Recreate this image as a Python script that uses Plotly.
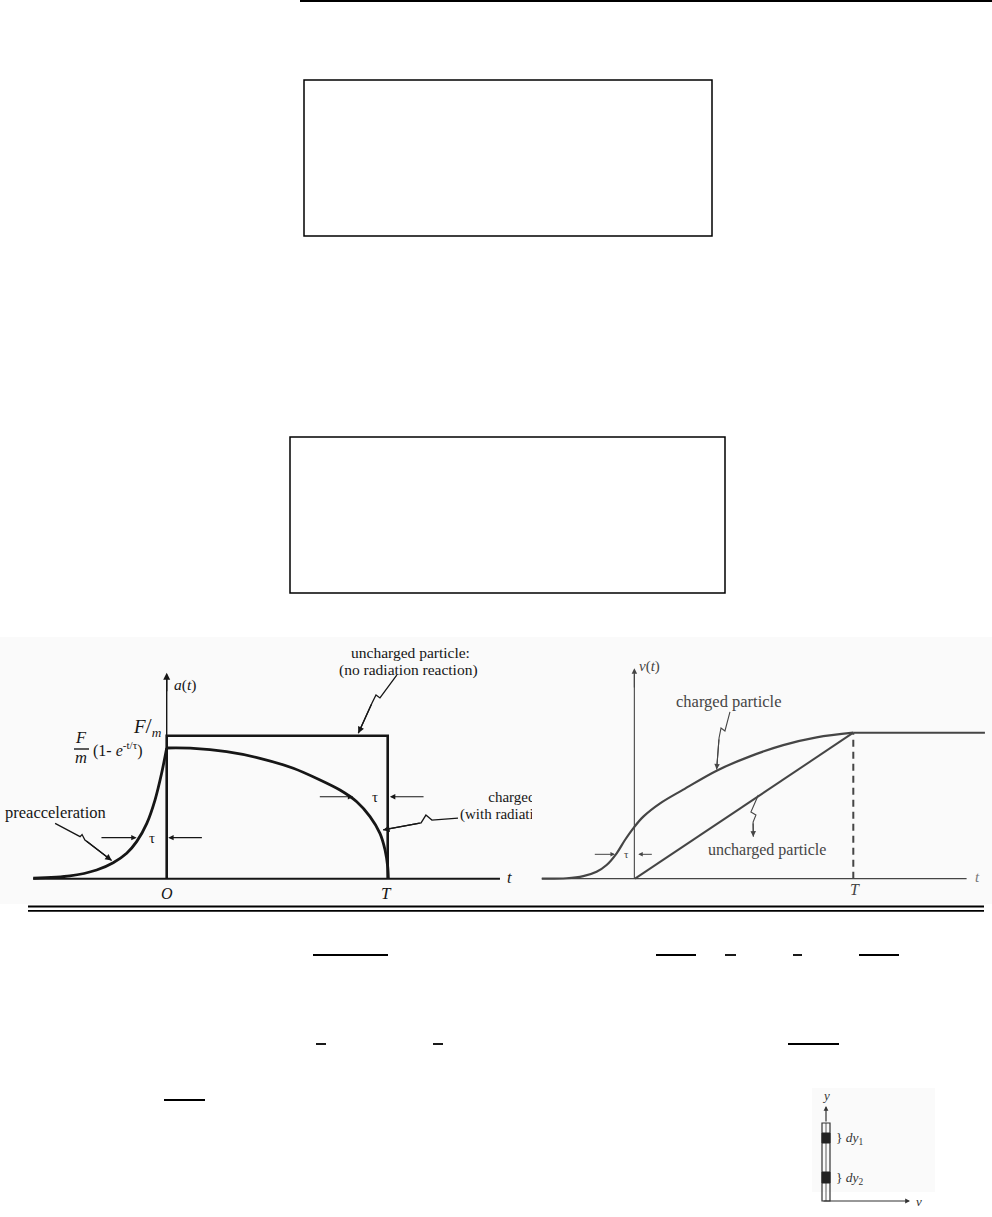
import plotly.graph_objects as go

W, H = 992, 1217

# ---------------- data ----------------
# left panel: acceleration a(t) in units of F/m, time in units of T
pre_t = [-0.604, -0.438, -0.317, -0.242, -0.181, -0.136, -0.090, -0.053, -0.023, 0.0]
pre_a = [0.003, 0.019, 0.061, 0.112, 0.178, 0.259, 0.387, 0.550, 0.737, 0.914]
post_t = [0.0, 0.121, 0.271, 0.422, 0.573, 0.694, 0.784, 0.860, 0.920, 0.965, 0.988, 1.0, 1.003]
post_a = [0.914, 0.912, 0.888, 0.842, 0.772, 0.690, 0.620, 0.538, 0.434, 0.317, 0.201, 0.084, 0.0]
unch_a_t = [0.0, 0.0, 1.0, 1.0]
unch_a = [0.0, 1.0, 1.0, 0.0]
a_base_t = [-0.604, 1.508]

# right panel: velocity v(t) in units of final velocity
v_ch_t = [-0.427, -0.313, -0.237, -0.176, -0.130, -0.084, -0.046, -0.008, 0.038, 0.115,
          0.221, 0.374, 0.527, 0.679, 0.832, 1.0]
v_ch = [0.0, 0.003, 0.018, 0.048, 0.094, 0.174, 0.265, 0.345, 0.425, 0.516,
        0.610, 0.740, 0.838, 0.915, 0.968, 1.0]
v_flat_t = [1.0, 1.603]
v_flat = [1.0, 1.0]
v_unch_t = [0.0, 1.0]
v_unch = [0.0, 1.0]
v_base_t = [-0.427, 1.519]

# squiggly leader lines (label pointers)
sq_pre_t = [-0.505, -0.392, -0.383, -0.370, -0.249]
sq_pre_a = [0.387, 0.294, 0.309, 0.271, 0.127]
sq_unch_t = [1.041, 0.965, 0.947, 0.929, 0.867]
sq_unch_a = [1.424, 1.264, 1.285, 1.229, 1.017]
sq_ch_t = [1.318, 1.200, 1.173, 1.151, 0.979]
sq_ch_a = [0.424, 0.410, 0.445, 0.390, 0.341]
sq_vch_t = [0.435, 0.412, 0.394, 0.385, 0.374]
sq_vch = [1.142, 1.012, 1.032, 0.964, 0.748]
sq_vun_t = [0.565, 0.531, 0.554, 0.541, 0.542]
sq_vun = [0.573, 0.457, 0.436, 0.388, 0.288]

# page fraction bars (leftover from typeset equations): (x0, x1) in page pixels per row
bars_row1 = [(313, 388), (656, 696), (725, 736), (793, 802), (859, 899)]
bars_row2 = [(316, 326), (433, 443), (788, 839)]
bars_row3 = [(164, 205)]

SERIF = "Liberation Serif, Times New Roman, serif"
INK_L = "#161616"
INK_R = "#454545"


def px(x):
    return x / W


def py(y):
    return 1 - y / H


fig = go.Figure()

# ---------------- left panel traces ----------------
fig.add_trace(go.Scatter(x=a_base_t, y=[0, 0], mode="lines",
                         line=dict(color=INK_L, width=2), xaxis="x", yaxis="y"))
fig.add_trace(go.Scatter(x=[0, 0], y=[0, 1.40], mode="lines",
                         line=dict(color=INK_L, width=1.4), xaxis="x", yaxis="y"))
fig.add_trace(go.Scatter(x=unch_a_t, y=unch_a, mode="lines",
                         line=dict(color=INK_L, width=2.6), xaxis="x", yaxis="y"))
fig.add_trace(go.Scatter(x=pre_t, y=pre_a, mode="lines",
                         line=dict(color=INK_L, width=2.8, shape="spline", smoothing=0.8),
                         xaxis="x", yaxis="y"))
fig.add_trace(go.Scatter(x=post_t, y=post_a, mode="lines",
                         line=dict(color=INK_L, width=2.8, shape="spline", smoothing=0.8),
                         xaxis="x", yaxis="y"))
for st, sa in [(sq_pre_t, sq_pre_a), (sq_unch_t, sq_unch_a), (sq_ch_t, sq_ch_a)]:
    fig.add_trace(go.Scatter(x=st, y=sa, mode="lines",
                             line=dict(color=INK_L, width=1.3), xaxis="x", yaxis="y"))
# label cut off by the neighbouring panel, as in the scan (clipped at the subplot edge)
fig.add_trace(go.Scatter(x=[1.455, 1.327], y=[0.560, 0.445], mode="text",
                         text=["charged particle", "(with radiation reaction)"],
                         textposition="middle right", cliponaxis=True,
                         textfont=dict(family=SERIF, size=15, color=INK_L),
                         xaxis="x", yaxis="y"))

# ---------------- right panel traces ----------------
fig.add_trace(go.Scatter(x=v_base_t, y=[0, 0], mode="lines",
                         line=dict(color=INK_R, width=1.3), xaxis="x2", yaxis="y2"))
fig.add_trace(go.Scatter(x=[-0.003, -0.003], y=[0, 1.40], mode="lines",
                         line=dict(color=INK_R, width=1.1), xaxis="x2", yaxis="y2"))
fig.add_trace(go.Scatter(x=[1.0, 1.0], y=[0, 1.0], mode="lines",
                         line=dict(color=INK_R, width=2, dash="7px,5px"), xaxis="x2", yaxis="y2"))
fig.add_trace(go.Scatter(x=v_unch_t, y=v_unch, mode="lines",
                         line=dict(color=INK_R, width=2), xaxis="x2", yaxis="y2"))
fig.add_trace(go.Scatter(x=v_flat_t, y=v_flat, mode="lines",
                         line=dict(color=INK_R, width=2), xaxis="x2", yaxis="y2"))
fig.add_trace(go.Scatter(x=v_ch_t, y=v_ch, mode="lines",
                         line=dict(color=INK_R, width=2.2, shape="spline", smoothing=1.0),
                         xaxis="x2", yaxis="y2"))
for st, sa in [(sq_vch_t, sq_vch), (sq_vun_t, sq_vun)]:
    fig.add_trace(go.Scatter(x=st, y=sa, mode="lines",
                             line=dict(color=INK_R, width=1.1), xaxis="x2", yaxis="y2"))

# ---------------- annotations ----------------
ann = []


def txt(x, y, s, size=14, color=INK_L, xa="center", ref="", **kw):
    ann.append(dict(x=x, y=y, text=s, showarrow=False, xref="x" + ref, yref="y" + ref,
                    xanchor=xa, yanchor="middle",
                    font=dict(family=SERIF, size=size, color=color), **kw))


def arrow(x, y, ax, ay, color=INK_L, width=1.3, ref="", head=2, size=1.0):
    ann.append(dict(x=x, y=y, ax=ax, ay=ay, text="", showarrow=True,
                    xref="x" + ref, yref="y" + ref, axref="x" + ref, ayref="y" + ref,
                    arrowhead=head, arrowsize=size, arrowwidth=width, arrowcolor=color))


# left panel labels
txt(0.083, 1.355, "<i>a</i>(<i>t</i>)", size=15.5)
arrow(0, 1.44, 0, 1.30, width=1.4)
txt(-0.012, 1.062, "<i>F</i><span style='font-size:22px'>/</span><sub><i>m</i></sub>", size=19, xa="right")
txt(-0.386, 0.985, "<i>F</i>", size=16.5)
txt(-0.386, 0.845, "<i>m</i>", size=16.5)
txt(-0.343, 0.905, "(1- <i>e</i><sup>-t/τ</sup>)", size=16, xa="left")
txt(-0.501, 0.462, "preacceleration", size=16.5)
txt(1.101, 1.583, "uncharged particle:", size=15.5)
txt(1.092, 1.458, "(no radiation reaction)", size=15.5)
txt(0.0, -0.102, "<i>O</i>", size=16)
txt(0.995, -0.102, "<i>T</i>", size=17)
txt(1.553, 0.01, "<i>t</i>", size=16.5)
# tau markers
arrow(-0.136, 0.287, -0.302, 0.287, width=1.2, size=0.9)
arrow(0.007, 0.287, 0.166, 0.287, width=1.2, size=0.9)
txt(-0.068, 0.287, "τ", size=15)
arrow(0.844, 0.573, 0.686, 0.573, width=1.2, size=0.9)
arrow(1.010, 0.573, 1.169, 0.573, width=1.2, size=0.9)
txt(0.943, 0.573, "τ", size=15)
# arrowheads of leader lines
arrow(sq_pre_t[-1], sq_pre_a[-1], sq_pre_t[-2], sq_pre_a[-2], width=1.3, size=1.0)
arrow(sq_unch_t[-1], sq_unch_a[-1], sq_unch_t[-2], sq_unch_a[-2], width=1.3, size=1.0)
arrow(sq_ch_t[-1], sq_ch_a[-1], sq_ch_t[-2], sq_ch_a[-2], width=1.3, size=1.0)

# right panel labels
txt(0.066, 1.452, "<i>v</i>(<i>t</i>)", size=15, color=INK_R, ref="2")
arrow(-0.003, 1.441, -0.003, 1.30, color=INK_R, width=1.1, ref="2")
txt(0.432, 1.212, "charged particle", size=16.5, color=INK_R, ref="2")
txt(0.603, 0.197, "uncharged particle", size=16, color=INK_R, ref="2")
txt(1.008, -0.077, "<i>T</i>", size=16, color=INK_R, ref="2")
txt(1.569, 0.01, "<i>t</i>", size=15, color="#777", ref="2")
arrow(-0.092, 0.167, -0.191, 0.167, color=INK_R, width=1.0, size=0.9, ref="2")
arrow(0.015, 0.167, 0.084, 0.167, color=INK_R, width=1.0, size=0.9, ref="2")
txt(-0.038, 0.167, "τ", size=11, color=INK_R, ref="2")
arrow(sq_vch_t[-1], sq_vch[-1], sq_vch_t[-2], sq_vch[-2], color=INK_R, width=1.1, ref="2")
arrow(sq_vun_t[-1], sq_vun[-1], sq_vun_t[-2], sq_vun[-2], color=INK_R, width=1.1, ref="2")

# small rod figure (bottom right)
ann.append(dict(x=px(826), y=py(1106), ax=0, ay=17, xref="paper", yref="paper",
                axref="pixel", ayref="pixel", text="", showarrow=True, arrowhead=2,
                arrowsize=0.8, arrowwidth=1.2, arrowcolor="#333"))
ann.append(dict(x=px(910), y=py(1201), ax=-88, ay=0, xref="paper", yref="paper",
                axref="pixel", ayref="pixel", text="", showarrow=True, arrowhead=2,
                arrowsize=0.8, arrowwidth=1.2, arrowcolor="#333"))
for xx, yy, s, sz in [(826, 1095, "<i>y</i>", 13), (914, 1201, "<i>v</i>", 13),
                      (834, 1138, "} <i>dy</i><sub>1</sub>", 13.5),
                      (834, 1178, "} <i>dy</i><sub>2</sub>", 13.5)]:
    ann.append(dict(x=px(xx), y=py(yy), xref="paper", yref="paper", text=s, showarrow=False,
                    xanchor="left" if xx > 826 else "center", yanchor="middle",
                    font=dict(family=SERIF, size=sz, color="#333")))

# ---------------- shapes (page decoration) ----------------
shapes = []
shapes.append(dict(type="rect", xref="paper", yref="paper", x0=0, x1=1, y0=py(904), y1=py(637),
                   fillcolor="#fafafa", line=dict(width=0), layer="below"))
shapes.append(dict(type="rect", xref="paper", yref="paper", x0=px(812), x1=px(935),
                   y0=py(1192), y1=py(1088), fillcolor="#fafafa", line=dict(width=0), layer="below"))
shapes.append(dict(type="line", xref="paper", yref="paper", x0=px(300), x1=1, y0=py(1), y1=py(1),
                   line=dict(color="black", width=2)))
shapes.append(dict(type="rect", xref="paper", yref="paper", x0=px(304), x1=px(712),
                   y0=py(236), y1=py(80), line=dict(color="black", width=1.5)))
shapes.append(dict(type="rect", xref="paper", yref="paper", x0=px(290), x1=px(725),
                   y0=py(593), y1=py(437), line=dict(color="black", width=1.5)))
for yy in (906.5, 910.8):
    shapes.append(dict(type="line", xref="paper", yref="paper", x0=px(28), x1=px(984),
                       y0=py(yy), y1=py(yy), line=dict(color="black", width=1.8)))
shapes.append(dict(type="line", xref="paper", yref="paper", x0=px(74), x1=px(89),
                   y0=py(749), y1=py(749), line=dict(color=INK_L, width=1.4)))
for row, yy in ((bars_row1, 955), (bars_row2, 1044), (bars_row3, 1100)):
    for x0, x1 in row:
        shapes.append(dict(type="line", xref="paper", yref="paper", x0=px(x0), x1=px(x1),
                           y0=py(yy), y1=py(yy), line=dict(color="black", width=1.8)))
shapes.append(dict(type="rect", xref="paper", yref="paper", x0=px(822), x1=px(830),
                   y0=py(1201), y1=py(1123), line=dict(color="#333", width=1.2)))
shapes.append(dict(type="line", xref="paper", yref="paper", x0=px(826), x1=px(826),
                   y0=py(1201), y1=py(1123), line=dict(color="#333", width=0.8)))
for y0, y1 in ((1133, 1143), (1172, 1183)):
    shapes.append(dict(type="rect", xref="paper", yref="paper", x0=px(822), x1=px(830),
                       y0=py(y1), y1=py(y0), fillcolor="#222", line=dict(color="#222", width=1)))

# ---------------- layout ----------------
ax_common = dict(visible=False, showgrid=False, zeroline=False, fixedrange=True)
fig.update_layout(
    width=W, height=H, margin=dict(l=0, r=0, t=0, b=0),
    paper_bgcolor="white", plot_bgcolor="rgba(0,0,0,0)", showlegend=False,
    xaxis=dict(domain=[0, px(532)], range=[(0 - 166.7) / 221, (532 - 166.7) / 221], **ax_common),
    yaxis=dict(domain=[py(905), py(620)], range=[(878.7 - 905) / 143, (878.7 - 620) / 143], **ax_common),
    xaxis2=dict(domain=[px(532), 1], range=[(532 - 635) / 218.3, (992 - 635) / 218.3],
                anchor="y2", **ax_common),
    yaxis2=dict(domain=[py(905), py(620)], range=[(878.7 - 905) / 146, (878.7 - 620) / 146],
                anchor="x2", **ax_common),
    annotations=ann, shapes=shapes,
)

fig.write_html("out.html", config={"displayModeBar": False},
               post_script="document.body.style.margin='0px';document.body.style.overflow='hidden';")
